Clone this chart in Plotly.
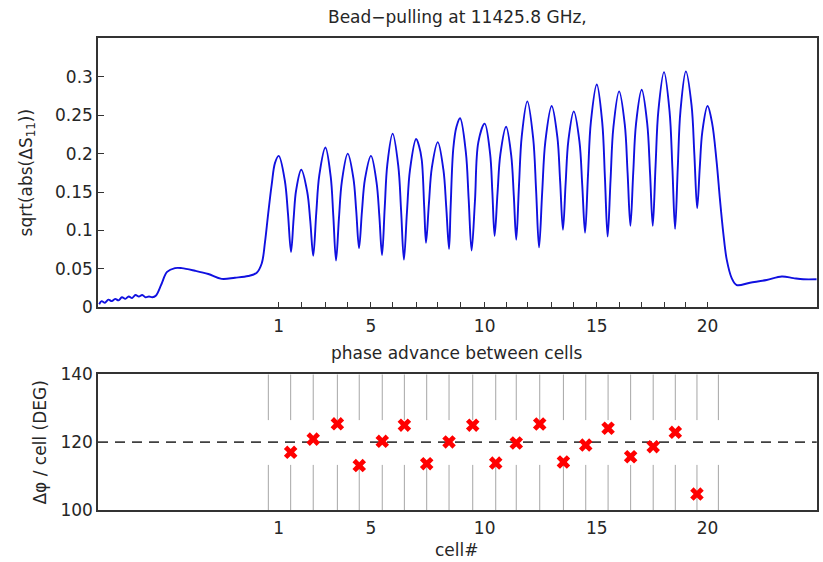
import plotly.graph_objects as go

# ---------------- data ----------------
# positions of cell centres (peaks) on the bead-pull axis, in cell units
cell_pos = [1.00, 2.00, 3.07, 4.06, 5.09, 6.05, 7.09, 8.05, 9.04, 10.13,
            11.08, 12.02, 13.10, 14.08, 15.10, 16.09, 17.09, 18.08, 19.05, 20.01]
cell_numbers = [1, 2, 3, 4, 5, 6, 7, 8, 9, 10, 11, 12, 13, 14, 15, 16, 17, 18, 19, 20]
labelled_cells = [1, 5, 10, 15, 20]

# bead-pull curve sqrt(abs(dS11))
bead_pos = [
    -6.96, -6.85, -6.70, -6.55, -6.40, -6.25, -6.10, -5.95, -5.80, -5.65,
    -5.50, -5.35, -5.20, -5.05, -4.90, -4.75, -4.60, -4.45, -4.20, -3.95,
    -3.60, -3.30, -2.71, -2.12, -1.53, -0.94, -0.35, 0.025, 0.246, 0.393,
    0.526, 0.69, 0.836,
    1.00, 1.27, 1.41, 1.545, 1.66, 1.77,
    2.00, 2.265, 2.40, 2.53, 2.665, 2.80,
    3.07, 3.305, 3.42, 3.54, 3.67, 3.80,
    4.06, 4.31, 4.435, 4.56, 4.69, 4.825,
    5.09, 5.335, 5.46, 5.58, 5.70, 5.815,
    6.05, 6.30, 6.425, 6.55, 6.685, 6.82,
    7.09, 7.22, 7.34, 7.45, 7.53, 7.66, 7.79,
    8.05, 8.30, 8.425, 8.55, 8.62, 8.74, 8.88,
    9.04, 9.295, 9.42, 9.55, 9.70, 9.85,
    10.13, 10.37, 10.47, 10.57, 10.70, 10.825,
    11.08, 11.305, 11.42, 11.53, 11.65, 11.775,
    12.02, 12.28, 12.41, 12.54, 12.68, 12.82,
    13.10, 13.35, 13.475, 13.60, 13.72, 13.84,
    14.08, 14.33, 14.455, 14.58, 14.71, 14.84,
    15.10, 15.34, 15.46, 15.58, 15.71, 15.835,
    16.09, 16.34, 16.465, 16.59, 16.715, 16.84,
    17.09, 17.335, 17.46, 17.58, 17.705, 17.83,
    18.08, 18.325, 18.45, 18.57, 18.69, 18.81,
    19.05, 19.30, 19.425, 19.55, 19.665, 19.78,
    20.01, 20.21, 20.41, 20.56, 20.71, 20.86, 21.08, 21.30, 21.89, 22.63,
    23.30, 23.81, 24.25, 24.85]
bead_amp = [
    0.004, 0.008, 0.006, 0.010, 0.008, 0.011, 0.009, 0.013, 0.011, 0.014,
    0.012, 0.016, 0.014, 0.016, 0.013, 0.014, 0.013, 0.015, 0.030, 0.046,
    0.051, 0.051, 0.0476, 0.0433, 0.037, 0.0385, 0.0407, 0.045, 0.057, 0.085,
    0.120, 0.160, 0.188,
    0.197, 0.165, 0.122, 0.072, 0.115, 0.152,
    0.179, 0.150, 0.112, 0.067, 0.123, 0.172,
    0.208, 0.170, 0.119, 0.061, 0.116, 0.164,
    0.200, 0.168, 0.126, 0.077, 0.125, 0.167,
    0.197, 0.163, 0.119, 0.068, 0.130, 0.186,
    0.226, 0.184, 0.126, 0.062, 0.124, 0.179,
    0.219, 0.210, 0.192, 0.130, 0.084, 0.136, 0.182,
    0.215, 0.179, 0.131, 0.076, 0.130, 0.207, 0.235,
    0.246, 0.202, 0.141, 0.074, 0.139, 0.215,
    0.239, 0.200, 0.150, 0.093, 0.149, 0.199,
    0.235, 0.198, 0.146, 0.088, 0.158, 0.223,
    0.268, 0.220, 0.152, 0.078, 0.150, 0.216,
    0.262, 0.222, 0.164, 0.101, 0.162, 0.217,
    0.255, 0.216, 0.159, 0.097, 0.172, 0.242,
    0.290, 0.241, 0.169, 0.092, 0.166, 0.234,
    0.281, 0.238, 0.175, 0.106, 0.175, 0.239,
    0.283, 0.239, 0.175, 0.106, 0.184, 0.256,
    0.306, 0.255, 0.182, 0.102, 0.182, 0.256,
    0.307, 0.263, 0.199, 0.129, 0.182, 0.229,
    0.262, 0.240, 0.190, 0.140, 0.096, 0.062, 0.038, 0.029, 0.032, 0.0355,
    0.040, 0.038, 0.0365, 0.0365]

# cell boundaries and phase advance per cell (DEG)
cell_bounds = [0.54, 1.53, 2.53, 3.60, 4.57, 5.59, 6.57, 7.56, 8.55, 9.60, 10.62,
               11.53, 12.57, 13.62, 14.61, 15.60, 16.60, 17.60, 18.58, 19.54, 20.49]
phase_adv = [117.0, 120.9, 125.4, 113.1, 120.25, 125.0, 113.65, 120.05, 125.0,
             113.85, 119.75, 125.35, 114.15, 119.15, 124.1, 115.7, 118.65, 122.9, 104.7]
design_phase = 120
grid_gap = [113.3, 126.5]

X_RANGE = [-7.01, 24.85]
FONT = "DejaVu Sans"
TXT = "#262626"
AX = "#333333"

major_vals = [cell_pos[cell_numbers.index(c)] for c in labelled_cells]
major_text = [str(c) for c in labelled_cells]
minor_vals = [p for p, c in zip(cell_pos, cell_numbers) if c not in labelled_cells]

fig = go.Figure()
fig.add_trace(go.Scatter(x=bead_pos, y=bead_amp, mode="lines",
                         line=dict(color="#1010e0", width=1.9, shape="spline", smoothing=1.0),
                         xaxis="x", yaxis="y", showlegend=False))
fig.add_trace(go.Scatter(x=cell_bounds[1:1 + len(phase_adv)], y=phase_adv, mode="markers",
                         marker=dict(symbol="x", size=12, color="#ff0000",
                                     line=dict(width=0)),
                         xaxis="x2", yaxis="y2", showlegend=False))

shapes = []
for b in cell_bounds:
    shapes.append(dict(type="line", xref="x2", yref="y2", x0=b, x1=b, y0=140, y1=grid_gap[1],
                       line=dict(color="#a6a6a6", width=1), layer="below"))
    shapes.append(dict(type="line", xref="x2", yref="y2", x0=b, x1=b, y0=grid_gap[0], y1=100,
                       line=dict(color="#a6a6a6", width=1), layer="below"))
shapes.append(dict(type="line", xref="x2 domain", yref="y2", x0=0, x1=1,
                   y0=design_phase, y1=design_phase,
                   line=dict(color="#404040", width=1.6, dash="10px,7px"), layer="below"))

axis_common = dict(showline=True, linecolor=AX, linewidth=1.5, mirror=True,
                   showgrid=False, zeroline=False, automargin=False,
                   tickfont=dict(family=FONT, size=17, color=TXT))

fig.update_layout(
    width=823, height=562, autosize=False, margin=dict(l=0, r=0, t=0, b=0, pad=0),
    paper_bgcolor="white", plot_bgcolor="white",
    xaxis=dict(domain=[0.1191, 0.9924], anchor="y", range=X_RANGE,
               tickmode="array", tickvals=major_vals, ticktext=major_text,
               ticks="inside", ticklen=6, tickcolor=AX, tickwidth=1.3,
               minor=dict(tickmode="array", tickvals=minor_vals, ticks="inside",
                          ticklen=6, tickcolor=AX, tickwidth=1.3, showgrid=False),
               ticklabelstandoff=3, **axis_common),
    yaxis=dict(domain=[0.4532, 0.9318], anchor="x", range=[0, 0.35],
               tickmode="array", tickvals=[0, 0.05, 0.1, 0.15, 0.2, 0.25, 0.3],
               ticktext=["0", "0.05", "0.1", "0.15", "0.2", "0.25", "0.3"],
               ticks="inside", ticklen=6, tickcolor=AX, tickwidth=1.3,
               **axis_common),
    xaxis2=dict(domain=[0.1191, 0.9924], anchor="y2", range=X_RANGE,
                tickmode="array", tickvals=major_vals, ticktext=major_text,
                ticks="", ticklabelstandoff=2, **axis_common),
    yaxis2=dict(domain=[0.0925, 0.3340], anchor="x2", range=[100, 140],
                tickmode="array", tickvals=[100, 120, 140],
                ticks="", **axis_common),
    shapes=shapes,
    annotations=[
        dict(text="Bead−pulling at 11425.8 GHz,", xref="paper", yref="paper",
             x=0.5557, y=0.970, showarrow=False, xanchor="center", yanchor="middle",
             font=dict(family=FONT, size=17, color=TXT)),
        dict(text="phase advance between cells", xref="paper", yref="paper",
             x=0.5557, y=0.3713, showarrow=False, xanchor="center", yanchor="middle",
             font=dict(family=FONT, size=17, color=TXT)),
        dict(text="cell#", xref="paper", yref="paper",
             x=0.5557, y=0.0214, showarrow=False, xanchor="center", yanchor="middle",
             font=dict(family=FONT, size=17, color=TXT)),
        dict(text="sqrt(abs(ΔS<sub>11</sub>))", xref="paper", yref="paper",
             x=0.0335, y=0.6925, showarrow=False, xanchor="center", yanchor="middle",
             textangle=-90, font=dict(family=FONT, size=17, color=TXT)),
        dict(text="Δφ / cell (DEG)", xref="paper", yref="paper",
             x=0.0486, y=0.2126, showarrow=False, xanchor="center", yanchor="middle",
             textangle=-90, font=dict(family=FONT, size=17, color=TXT)),
    ],
)

fig.write_html("out.html")
